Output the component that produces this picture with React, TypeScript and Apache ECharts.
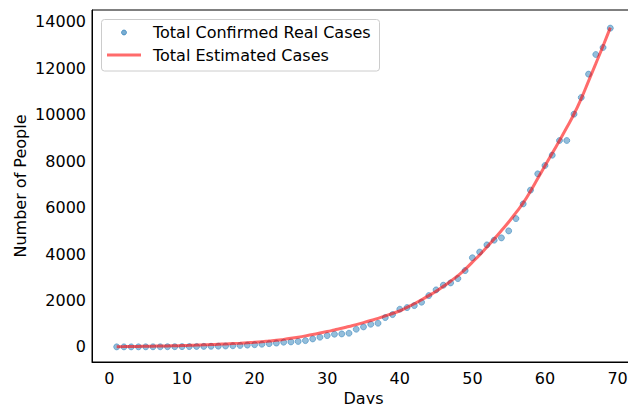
import React, { useEffect, useRef } from "react";
import * as echarts from "echarts";

const days = [1, 2, 3, 4, 5, 6, 7, 8, 9, 10, 11, 12, 13, 14, 15, 16, 17, 18, 19, 20, 21, 22, 23, 24, 25, 26, 27, 28, 29, 30, 31, 32, 33, 34, 35, 36, 37, 38, 39, 40, 41, 42, 43, 44, 45, 46, 47, 48, 49, 50, 51, 52, 53, 54, 55, 56, 57, 58, 59, 60, 61, 62, 63, 64, 65, 66, 67, 68, 69];

const confirmedCases = [2, 2, 2, 3, 4, 5, 6, 8, 10, 12, 15, 18, 22, 27, 33, 40, 50, 62, 78, 95, 115, 140, 165, 202, 215, 235, 273, 345, 417, 488, 546, 560, 589, 761, 862, 976, 1019, 1264, 1393, 1622, 1694, 1780, 1924, 2211, 2456, 2657, 2757, 2944, 3287, 3840, 4085, 4394, 4596, 4696, 4997, 5527, 6160, 6750, 7453, 7812, 8257, 8889, 8889, 10025, 10742, 11747, 12593, 12895, 13729];

const estimatedCases = [10, 13, 17, 21, 26, 31, 37, 44, 51, 59, 68, 78, 89, 101, 114, 128, 144, 161, 180, 200, 225, 255, 285, 325, 370, 420, 475, 535, 595, 660, 730, 800, 880, 960, 1045, 1135, 1230, 1335, 1440, 1550, 1700, 1860, 2030, 2210, 2400, 2610, 2830, 3070, 3340, 3650, 3960, 4300, 4650, 5010, 5380, 5780, 6200, 6700, 7250, 7800, 8340, 8890, 9450, 10030, 10700, 11450, 12200, 12960, 13750];

const xTicks = [0, 10, 20, 30, 40, 50, 60, 70];
const yTicks = [0, 2000, 4000, 6000, 8000, 10000, 12000, 14000];

const seriesNames = ["Total Confirmed Real Cases", "Total Estimated Cases"];
const xTitle = "Days";
const yTitle = "Number of People";

const FONT = "DejaVu Sans";
const FS = 16;
const BLUE = "rgba(31,119,180,0.6)";
const RED = "rgba(255,0,0,0.58)";

export default function App() {
  const ref = useRef<HTMLDivElement>(null);
  useEffect(() => {
    document.body.style.margin = "0";
    const chart = echarts.init(ref.current!, null, { renderer: "svg" });
    chart.setOption({
      animation: false,
      backgroundColor: "#ffffff",
      textStyle: { fontFamily: FONT },
      grid: {
        left: 92,
        top: 10,
        width: 543,
        height: 352,
        outerBoundsMode: "none",
        containLabel: false,
        show: true,
        borderColor: "#000",
        borderWidth: 1,
        backgroundColor: "transparent",
      },
      xAxis: {
        type: "value",
        min: -2.4,
        max: 72.4,
        splitLine: { show: false },
        axisTick: { show: false },
        axisLine: { show: true, onZero: false, lineStyle: { color: "#000", width: 1 } },
        axisLabel: {
          customValues: xTicks,
          formatter: (v: number) => String(v),
          color: "#000",
          fontSize: FS,
          fontFamily: FONT,
          margin: 8,
        },
      },
      yAxis: {
        type: "value",
        min: -650,
        max: 14510,
        splitLine: { show: false },
        axisTick: { show: false },
        axisLine: { show: true, onZero: false, lineStyle: { color: "#000", width: 1 } },
        axisLabel: {
          customValues: yTicks,
          formatter: (v: number) => String(v),
          color: "#000",
          fontSize: FS,
          fontFamily: FONT,
          margin: 6,
        },
      },
      series: [
        {
          name: seriesNames[0],
          type: "scatter",
          data: days.map((d, i) => [d, confirmedCases[i]]),
          symbol: "circle",
          symbolSize: 6,
          itemStyle: { color: BLUE, borderColor: BLUE, borderWidth: 1 },
          z: 2,
        },
        {
          name: seriesNames[1],
          type: "line",
          data: days.map((d, i) => [d, estimatedCases[i]]),
          showSymbol: false,
          smooth: true,
          lineStyle: { color: RED, width: 3 },
          z: 3,
        },
      ],
      graphic: [
        {
          type: "text",
          x: 363.5,
          y: 398,
          style: {
            text: xTitle,
            fontSize: FS,
            fontFamily: FONT,
            fill: "#000",
            align: "center",
            verticalAlign: "middle",
          },
        },
        {
          type: "text",
          x: 20,
          y: 186,
          rotation: Math.PI / 2,
          style: {
            text: yTitle,
            fontSize: FS,
            fontFamily: FONT,
            fill: "#000",
            align: "center",
            verticalAlign: "middle",
          },
        },
        {
          type: "group",
          z: 10,
          children: [
            {
              type: "rect",
              shape: { x: 101.5, y: 19.5, width: 278, height: 51.5, r: 3 },
              style: { fill: "rgba(255,255,255,0.8)", stroke: "#cccccc", lineWidth: 1 },
            },
            {
              type: "circle",
              shape: { cx: 124, cy: 32.5, r: 2.5 },
              style: { fill: BLUE, stroke: BLUE, lineWidth: 1 },
            },
            {
              type: "text",
              x: 153,
              y: 32.5,
              style: {
                text: seriesNames[0],
                fontSize: FS,
                fontFamily: FONT,
                fill: "#000",
                align: "left",
                verticalAlign: "middle",
              },
            },
            {
              type: "line",
              shape: { x1: 107, y1: 55, x2: 141, y2: 55 },
              style: { stroke: RED, lineWidth: 3 },
            },
            {
              type: "text",
              x: 153,
              y: 55,
              style: {
                text: seriesNames[1],
                fontSize: FS,
                fontFamily: FONT,
                fill: "#000",
                align: "left",
                verticalAlign: "middle",
              },
            },
          ],
        },
      ],
    });
    return () => chart.dispose();
  }, []);
  return <div ref={ref} style={{ width: 628, height: 404 }} />;
}
